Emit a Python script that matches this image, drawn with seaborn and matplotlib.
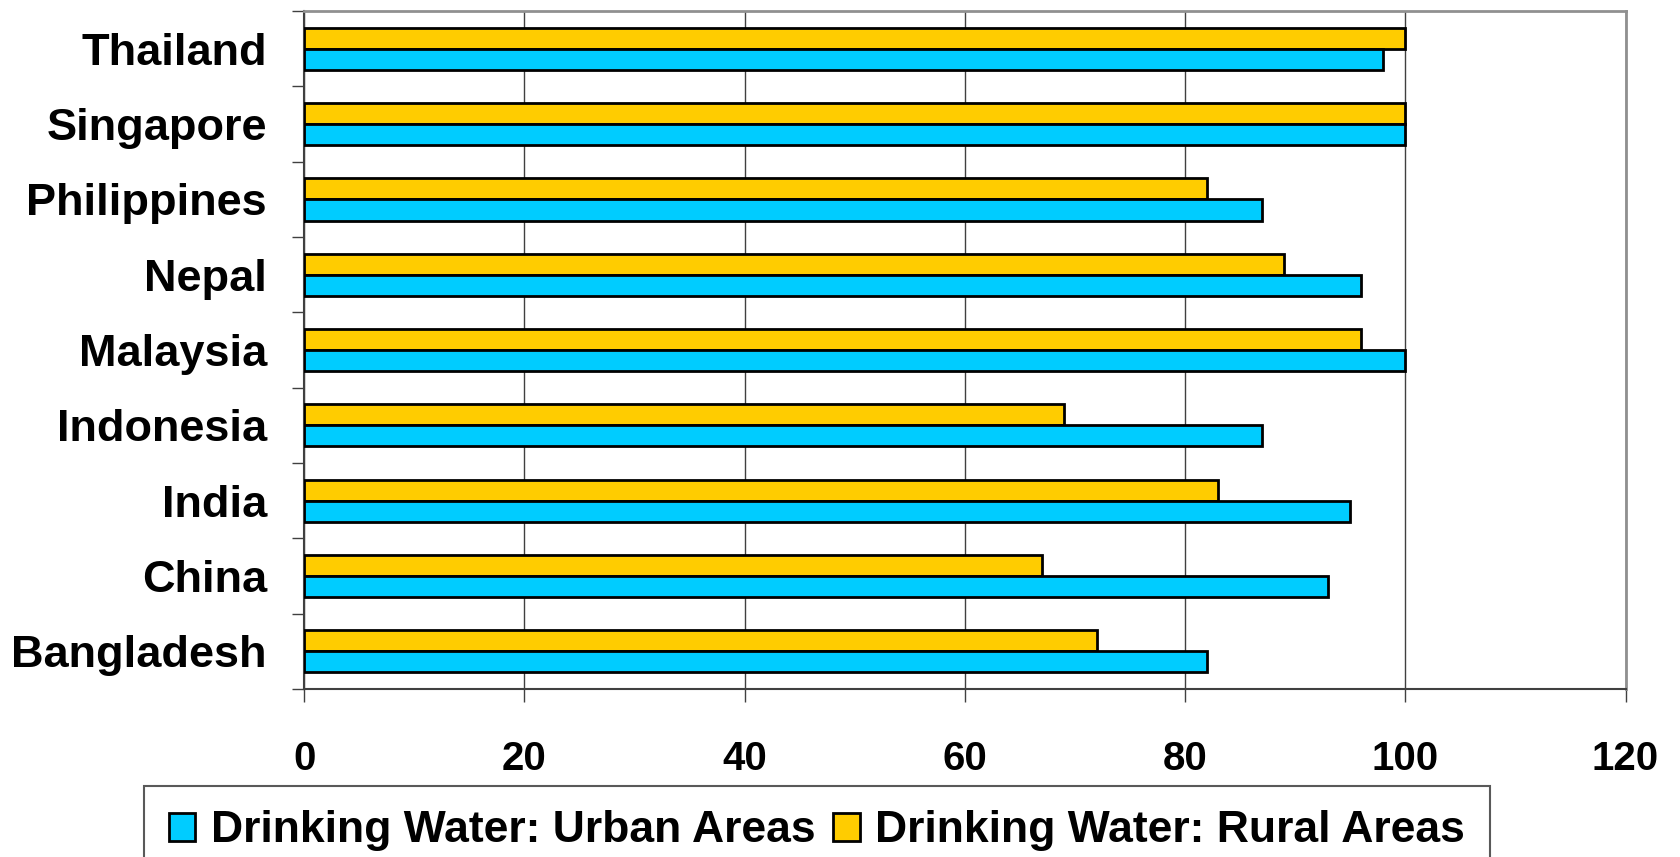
import matplotlib
matplotlib.use("Agg")
import matplotlib.pyplot as plt
import seaborn as sns
import pandas as pd
from matplotlib.patches import Patch

countries = ["Thailand", "Singapore", "Philippines", "Nepal", "Malaysia",
             "Indonesia", "India", "China", "Bangladesh"]
urban = [98, 100, 87, 96, 100, 87, 95, 93, 82]
rural = [100, 100, 82, 89, 96, 69, 83, 67, 72]
series_urban = "Drinking Water: Urban Areas"
series_rural = "Drinking Water: Rural Areas"
x_ticks = [0, 20, 40, 60, 80, 100, 120]

df = pd.DataFrame({
    "country": countries * 2,
    "value": rural + urban,
    "series": [series_rural] * len(countries) + [series_urban] * len(countries),
})

sns.set_theme(style="white")
plt.rcParams["font.family"] = ["Liberation Sans", "DejaVu Sans"]
plt.rcParams["font.weight"] = "bold"
plt.rcParams["text.color"] = "black"
plt.rcParams["xtick.labelcolor"] = "black"
plt.rcParams["ytick.labelcolor"] = "black"

colors = {series_urban: "#00CCFF", series_rural: "#FFCC00"}

fig = plt.figure(figsize=(16.81, 8.57), dpi=100)
ax = fig.add_axes([0.181, 0.196, 0.786, 0.791])

sns.barplot(data=df, y="country", x="value", hue="series",
            order=countries, hue_order=[series_rural, series_urban],
            palette=colors, orient="h", width=0.56, gap=0,
            edgecolor="black", linewidth=2.0, saturation=1,
            legend=False, ax=ax, zorder=3)

ax.set_xlim(0, 120)
ax.set_ylim(len(countries) - 0.5, -0.5)
ax.set_xticks(x_ticks)
ax.set_xticklabels([str(t) for t in x_ticks], fontsize=29, fontweight="bold", color="black")
ax.tick_params(axis="x", length=9, width=1, color="#404040", pad=28, bottom=True)

ax.set_yticks(range(len(countries)))
ax.set_yticklabels(countries, fontsize=32.5, fontweight="bold", color="black")
ax.tick_params(axis="y", which="major", length=0, pad=27)
ax.set_yticks([i - 0.5 for i in range(len(countries) + 1)], minor=True)
ax.tick_params(axis="y", which="minor", length=9, width=1, color="#404040", left=True)

ax.xaxis.grid(True, color="#404040", linewidth=1, zorder=0)
ax.yaxis.grid(False)
ax.set_axisbelow(True)
ax.set_xlabel("")
ax.set_ylabel("")

for side in ["left", "bottom"]:
    ax.spines[side].set_color("#404040")
    ax.spines[side].set_linewidth(1.5)
for side in ["top", "right"]:
    ax.spines[side].set_color("#909090")
    ax.spines[side].set_linewidth(2)

handles = [Patch(facecolor=colors[series_urban], edgecolor="black", linewidth=2, label=series_urban),
           Patch(facecolor=colors[series_rural], edgecolor="black", linewidth=2, label=series_rural)]
leg = fig.legend(handles=handles, loc="upper center", bbox_to_anchor=(0.486, 0.083),
                 bbox_transform=fig.transFigure, ncol=2,
                 prop={"weight": "bold", "size": 32},
                 handlelength=0.6, handleheight=0.6, handletextpad=0.35,
                 columnspacing=0.4, borderpad=0.55, borderaxespad=0,
                 fancybox=False, frameon=True)
leg.get_frame().set_edgecolor("#303030")
leg.get_frame().set_linewidth(1.5)
for t in leg.get_texts():
    t.set_color("black")

fig.savefig("out.png", dpi=100)
